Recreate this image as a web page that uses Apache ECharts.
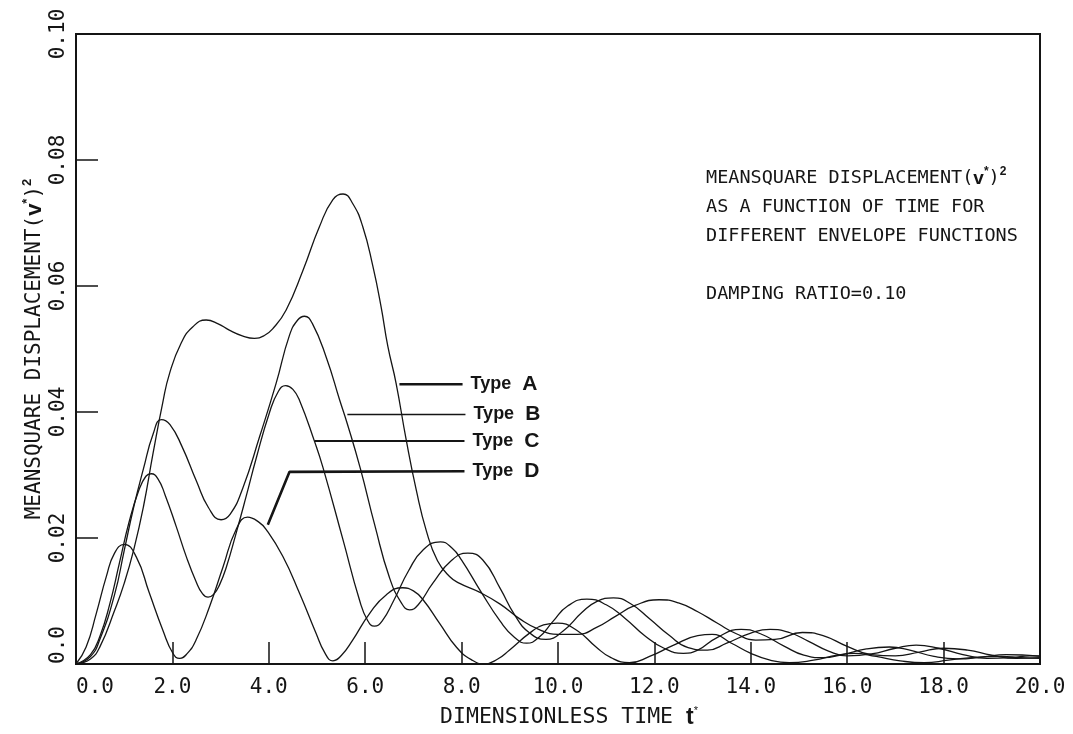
<!DOCTYPE html>
<html>
<head>
<meta charset="utf-8">
<script src="https://cdn.jsdelivr.net/npm/echarts@6/dist/echarts.min.js"></script>
<style>
  html, body { margin: 0; padding: 0; background: #fff; }
  #chart { width: 1073px; height: 734px; }
</style>
</head>
<body>
<div id="chart"></div>
<script>
// Tick labels
const xTickLabels = ['0.0', '2.0', '4.0', '6.0', '8.0', '10.0', '12.0', '14.0', '16.0', '18.0', '20.0'];
const yTickLabels = ['0.0', '0.02', '0.04', '0.06', '0.08', '0.10'];

// Mean square displacement vs dimensionless time, [t*, (v*)^2]
const typeA = [
  [0, 0], [0.3, 0.0008], [0.5, 0.0028], [0.8, 0.0085], [1.0, 0.0128], [1.2, 0.0182], [1.4, 0.025],
  [1.6, 0.0335], [1.8, 0.0415], [1.94, 0.0461], [2.18, 0.0509], [2.42, 0.0535], [2.7, 0.0546],
  [2.95, 0.054], [3.18, 0.053], [3.45, 0.0521], [3.7, 0.0517], [3.9, 0.0521], [4.08, 0.0532],
  [4.36, 0.0562], [4.71, 0.0625], [5.05, 0.0694], [5.33, 0.0737], [5.54, 0.0746], [5.74, 0.0731],
  [5.95, 0.0694], [6.16, 0.0631], [6.33, 0.0567], [6.47, 0.0504], [6.64, 0.0446], [6.85, 0.0356],
  [7.06, 0.0276], [7.27, 0.0211], [7.5, 0.0164], [7.75, 0.0139], [7.96, 0.0128], [8.37, 0.0114],
  [8.8, 0.0095], [9.2, 0.0072], [9.6, 0.0055], [10.0, 0.0047], [10.4, 0.0047], [10.8, 0.0058],
  [11.2, 0.0076], [11.6, 0.0093], [12.1, 0.0102], [12.5, 0.0097], [12.9, 0.0083], [13.3, 0.0065],
  [13.7, 0.0048], [14.1, 0.0038], [14.5, 0.0039], [15.07, 0.005], [15.5, 0.0045], [16.0, 0.0028],
  [16.5, 0.0015], [17.0, 0.0013], [17.5, 0.0019], [18.0, 0.0025], [18.5, 0.0022], [19.0, 0.0014],
  [19.5, 0.0009], [20, 0.001]
];
const typeB = [
  [0, 0], [0.3, 0.0012], [0.5, 0.004], [0.8, 0.011], [1.0, 0.018], [1.2, 0.025], [1.4, 0.031],
  [1.6, 0.0365], [1.77, 0.0388], [1.95, 0.038], [2.2, 0.0345], [2.5, 0.029], [2.75, 0.0248],
  [3.01, 0.0229], [3.2, 0.0238], [3.46, 0.0279], [3.81, 0.0361], [4.15, 0.0445], [4.43, 0.0522],
  [4.6, 0.0546], [4.74, 0.0552], [4.9, 0.0541], [5.2, 0.0485], [5.47, 0.0419], [5.63, 0.0381],
  [5.9, 0.031], [6.2, 0.022], [6.5, 0.0138], [6.75, 0.0097], [6.92, 0.0086], [7.1, 0.0094],
  [7.4, 0.0128], [7.8, 0.0165], [8.13, 0.0176], [8.44, 0.0165], [8.8, 0.012], [9.1, 0.0078],
  [9.4, 0.005], [9.75, 0.0039], [10.1, 0.0052], [10.5, 0.0082], [10.8, 0.0099], [11.15, 0.0105],
  [11.5, 0.0096], [11.9, 0.0072], [12.3, 0.0046], [12.7, 0.0026], [13.1, 0.0022], [13.5, 0.0033],
  [14.0, 0.0049], [14.4, 0.0055], [14.8, 0.005], [15.2, 0.0036], [15.6, 0.0021], [16.0, 0.0013],
  [16.5, 0.0016], [17.0, 0.0025], [17.43, 0.003], [17.9, 0.0025], [18.4, 0.0015], [18.9, 0.0009],
  [19.4, 0.001], [19.8, 0.0013], [20, 0.0013]
];
const typeC = [
  [0, 0], [0.3, 0.0015], [0.5, 0.0045], [0.7, 0.0095], [0.9, 0.016], [1.1, 0.0225], [1.3, 0.0275],
  [1.45, 0.0298], [1.56, 0.0302], [1.7, 0.0294], [1.85, 0.0268], [2.08, 0.0218], [2.29, 0.017],
  [2.49, 0.0131], [2.62, 0.0112], [2.74, 0.0106], [2.86, 0.0111], [2.98, 0.0126], [3.12, 0.0154],
  [3.32, 0.0207], [3.53, 0.0266], [3.74, 0.0327], [4.01, 0.0398], [4.2, 0.0433], [4.35, 0.0442],
  [4.5, 0.0436], [4.64, 0.0418], [4.95, 0.0353], [5.12, 0.0313], [5.54, 0.0197], [5.88, 0.0102],
  [6.05, 0.0069], [6.19, 0.006], [6.35, 0.0068], [6.6, 0.0102], [6.9, 0.0148], [7.2, 0.0181],
  [7.56, 0.0194], [7.8, 0.0184], [8.0, 0.0165], [8.4, 0.0115], [8.8, 0.0068], [9.1, 0.0042],
  [9.35, 0.0033], [9.6, 0.0042], [9.9, 0.0068], [10.2, 0.0092], [10.6, 0.0103], [11.0, 0.0094],
  [11.4, 0.0072], [11.8, 0.0045], [12.2, 0.0025], [12.6, 0.0017], [12.9, 0.0022], [13.3, 0.0042],
  [13.8, 0.0055], [14.2, 0.0048], [14.7, 0.0028], [15.1, 0.0014], [15.5, 0.001], [15.9, 0.0015],
  [16.4, 0.0024], [16.88, 0.0027], [17.3, 0.0022], [17.8, 0.0012], [18.3, 0.0008], [18.8, 0.0011],
  [19.3, 0.0015], [19.7, 0.0014], [20, 0.0012]
];
const typeD = [
  [0, 0], [0.21, 0.0027], [0.42, 0.008], [0.63, 0.0139], [0.8, 0.0176], [1.0, 0.019], [1.25, 0.017],
  [1.52, 0.0113], [1.8, 0.0054], [2.01, 0.0017], [2.15, 0.0009], [2.3, 0.0016], [2.49, 0.0038],
  [2.77, 0.0091], [3.05, 0.0154], [3.32, 0.0213], [3.56, 0.0233], [3.78, 0.0226], [3.95, 0.0213],
  [4.29, 0.0171], [4.64, 0.0112], [4.98, 0.0049], [5.16, 0.0018], [5.33, 0.0005], [5.5, 0.0013],
  [5.74, 0.0038], [6.09, 0.008], [6.44, 0.011], [6.78, 0.0121], [7.0, 0.0116], [7.2, 0.0102],
  [7.54, 0.0065], [7.89, 0.0027], [8.2, 0.0007], [8.47, 0.0], [8.75, 0.0008], [8.99, 0.0022],
  [9.41, 0.0049], [9.7, 0.0062], [9.99, 0.0065], [10.38, 0.0054], [10.79, 0.0027], [11.1, 0.001],
  [11.48, 0.0002], [11.9, 0.0012], [12.4, 0.003], [12.9, 0.0045], [13.2, 0.0047], [13.6, 0.0033],
  [14.0, 0.0017], [14.4, 0.0006], [14.8, 0.0002], [15.3, 0.0006], [15.8, 0.0014], [16.15, 0.0017],
  [16.6, 0.0012], [17.1, 0.0005], [17.6, 0.0002], [18.1, 0.0006], [18.7, 0.0011], [19.2, 0.0012],
  [19.6, 0.001], [20, 0.0009]
];

const typeNames = ['A', 'B', 'C', 'D'];

// Leader lines from each curve to its "Type" label, in data units
const leaderPaths = {
  A: [[6.71, 0.0444], [8.02, 0.0444]],
  B: [[5.63, 0.0396], [8.08, 0.0396]],
  C: [[4.95, 0.0354], [8.06, 0.0354]],
  D: [[3.98, 0.0221], [4.43, 0.0305], [8.06, 0.0306]]
};
const leaderWidths = { A: 2.6, B: 1.4, C: 1.8, D: 2.6 };

const ink = '#151515';
const mono = '"DejaVu Sans Mono", monospace';
const bold = '"Liberation Sans", Arial, sans-serif';

const chart = echarts.init(document.getElementById('chart'), null, { renderer: 'canvas' });

const curveSeries = [typeA, typeB, typeC, typeD].map((data, i) => ({
  name: 'Type ' + typeNames[i],
  type: 'line',
  data: data,
  showSymbol: false,
  smooth: 0.5,
  silent: true,
  lineStyle: { color: ink, width: 1.3 },
  z: 3
}));

const leaderSeries = typeNames.map(k => ({
  type: 'line',
  data: leaderPaths[k],
  showSymbol: false,
  silent: true,
  lineStyle: { color: ink, width: leaderWidths[k] },
  endLabel: {
    show: true,
    distance: 8,
    formatter: '{t|Type}{k|' + k + '}',
    rich: {
      t: { fontFamily: bold, fontWeight: 'bold', fontSize: 18, color: ink },
      k: { fontFamily: bold, fontWeight: 'bold', fontSize: 21, color: ink, padding: [0, 0, 0, 11] }
    }
  },
  z: 4
}));

const option = {
  animation: false,
  backgroundColor: '#ffffff',
  title: {
    left: 706,
    top: 164,
    padding: 0,
    text: '{n|MEANSQUARE DISPLACEMENT(}{b|v}{s|*}{n|)}{s|2}\n{n|AS A FUNCTION OF TIME FOR}\n{n|DIFFERENT ENVELOPE FUNCTIONS}\n{n| }\n{n|DAMPING RATIO=0.10}',
    textStyle: {
      color: ink,
      fontFamily: mono,
      fontSize: 18.5,
      fontWeight: 'normal',
      lineHeight: 29,
      rich: {
        n: { fontFamily: mono, fontSize: 18.5, color: ink, lineHeight: 29 },
        b: { fontFamily: bold, fontWeight: 'bold', fontSize: 19, color: ink, lineHeight: 29 },
        s: { fontFamily: bold, fontWeight: 'bold', fontSize: 12, color: ink, lineHeight: 29, padding: [0, 0, 14, 0] }
      }
    }
  },
  grid: {
    left: 76, right: 33, top: 34, bottom: 70,
    show: true,
    borderColor: ink,
    borderWidth: 2,
    containLabel: false,
    outerBoundsMode: 'none'
  },
  xAxis: {
    type: 'value',
    min: 0, max: 20, interval: 2,
    splitLine: { show: false },
    axisLine: { lineStyle: { color: ink, width: 2 } },
    axisTick: { inside: true, length: 22, lineStyle: { color: ink, width: 1.5 } },
    axisLabel: {
      margin: 13,
      color: ink,
      fontFamily: mono,
      fontSize: 21,
      alignMinLabel: 'left',
      formatter: v => xTickLabels[Math.round(v / 2)]
    },
    name: '{n|DIMENSIONLESS TIME }{b|t}{s|*}',
    nameLocation: 'middle',
    nameGap: 41,
    nameMoveOverlap: false,
    nameTextStyle: {
      color: ink,
      padding: [0, 0, 0, 22],
      rich: {
        n: { fontFamily: mono, fontSize: 21.5, color: ink },
        b: { fontFamily: bold, fontWeight: 'bold', fontSize: 23, color: ink },
        s: { fontFamily: bold, fontSize: 11, color: ink, padding: [0, 0, 14, 0] }
      }
    }
  },
  yAxis: {
    type: 'value',
    min: 0, max: 0.1, interval: 0.02,
    splitLine: { show: false },
    axisLine: { lineStyle: { color: ink, width: 1.5 } },
    axisTick: { inside: true, length: 22, lineStyle: { color: ink, width: 1.5 } },
    axisLabel: {
      rotate: 90,
      margin: 7,
      color: ink,
      fontFamily: mono,
      fontSize: 21,
      alignMinLabel: 'left',
      formatter: v => yTickLabels[Math.round(v / 0.02)]
    },
    name: '{n|MEANSQUARE DISPLACEMENT(}{b|v}{s|*}{n|)}{s|2}',
    nameLocation: 'middle',
    nameGap: 28,
    nameRotate: 90,
    nameMoveOverlap: false,
    nameTextStyle: {
      color: ink,
      rich: {
        n: { fontFamily: mono, fontSize: 21, color: ink },
        b: { fontFamily: bold, fontWeight: 'bold', fontSize: 22, color: ink },
        s: { fontFamily: bold, fontWeight: 'bold', fontSize: 13, color: ink, padding: [0, 0, 14, 0] }
      }
    }
  },
  series: curveSeries.concat(leaderSeries)
};

chart.setOption(option);
</script>
</body>
</html>
